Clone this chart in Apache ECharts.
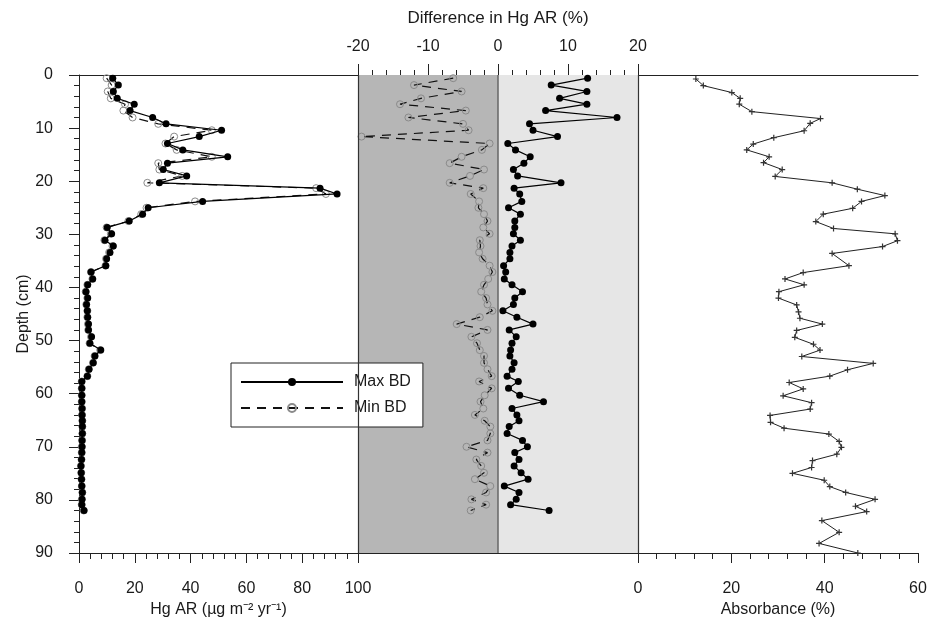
<!DOCTYPE html>
<html>
<head>
<meta charset="utf-8">
<script src="https://cdn.jsdelivr.net/npm/echarts@6/dist/echarts.min.js"></script>
<style>
html,body{margin:0;padding:0;background:#fff;}
#chart{width:928px;height:619px;}
</style>
</head>
<body>
<div id="chart"></div>
<script>
// Sample depths (cm) for Hg AR and difference profiles
var depth = [0.6,1.9,3.1,4.4,5.5,6.7,8.0,9.2,10.4,11.6,12.9,14.1,15.4,16.6,17.8,19.0,20.3,21.3,22.4,23.8,
  25.0,26.2,27.5,28.7,29.9,31.1,32.2,33.4,34.6,35.9,37.1,38.4,39.5,40.8,42.0,43.2,44.4,45.6,46.9,48.0,
  49.3,50.5,51.8,52.9,54.2,55.4,56.7,57.7,59.0,60.3,61.5,62.8,64.0,65.1,66.2,67.5,68.8,70.0,71.1,72.4,
  73.6,74.9,76.1,77.4,78.6,79.9,80.9,82.0];
// Hg AR (ug m-2 yr-1), maximum bulk density
var hgMax = [12.1,14.1,12.3,13.7,19.8,18.3,26.4,31.2,51.1,43.1,31.7,37.2,53.3,31.7,30.2,38.6,28.8,86.4,92.5,44.3,
  24.8,22.8,18.0,10.1,11.7,9.3,12.3,11.1,9.9,9.6,4.3,4.9,3.1,2.5,3.1,2.7,3.0,3.1,3.4,3.4,
  4.5,3.9,7.8,5.7,5.1,3.6,3.0,1.0,1.0,1.0,1.0,1.1,1.1,1.2,1.2,1.2,1.1,1.1,1.0,0.9,
  0.7,0.8,0.9,1.0,1.2,1.1,1.0,1.8];
// Hg AR, minimum bulk density
var hgMin = [9.9,11.7,10.3,11.4,16.5,15.9,19.2,28.4,47.6,34.1,31.0,35.0,47.6,28.4,28.8,37.0,24.5,85.0,88.5,41.6,
  24.2,22.3,17.7,9.9,11.4,9.1,12.0,10.8,9.7,9.5,4.3,4.8,3.0,2.4,3.0,2.6,3.0,3.0,3.2,3.3,
  4.3,3.8,7.6,5.6,5.0,3.5,3.0,1.0,1.0,1.0,1.0,1.1,1.1,1.2,1.2,1.2,1.1,1.0,1.0,0.9,
  0.7,0.8,0.9,1.0,1.2,1.0,1.0,1.7];
// Difference in Hg AR (%)
var diffMax = [12.8,7.6,12.7,8.8,12.7,6.8,17.0,4.5,5.0,8.5,1.4,2.5,4.6,3.7,2.2,2.8,9.0,2.3,3.1,3.4,
  1.5,3.2,2.4,2.4,2.2,3.2,2.0,1.7,1.7,0.8,1.1,0.9,2.0,3.5,2.4,2.2,0.7,2.7,5.0,1.6,
  2.6,2.0,1.8,1.7,2.3,2.0,1.3,2.9,1.5,3.1,6.5,2.0,2.7,3.0,1.6,1.3,3.5,4.2,2.4,3.0,
  2.3,3.3,4.3,0.9,3.0,2.6,1.8,7.3];
var diffMin = [-6.4,-12.0,-5.2,-11.0,-14.0,-4.6,-12.8,-5.0,-4.2,-19.5,-1.2,-2.3,-5.2,-6.9,-2.0,-4.0,-6.9,-2.1,-3.9,-2.7,
  -2.8,-2.0,-1.5,-2.1,-1.2,-2.6,-2.5,-2.7,-2.2,-1.2,-0.8,-1.4,-2.0,-2.4,-1.7,-1.5,-0.8,-2.6,-5.9,-1.5,
  -3.8,-3.0,-2.6,-2.0,-2.0,-1.5,-0.9,-2.7,-0.9,-1.9,-2.5,-2.1,-3.3,-1.9,-1.1,-1.1,-1.5,-4.5,-1.5,-3.1,
  -2.4,-2.0,-3.3,-1.1,-1.7,-3.8,-1.7,-3.9];
// Absorbance profile
var absDepth = [0.75,2.0,3.3,4.4,5.5,6.9,8.2,9.1,10.5,11.8,13.0,14.1,15.4,16.5,17.8,19.1,20.3,21.5,22.7,23.8,
  25.1,26.2,27.6,28.9,29.9,31.2,32.3,33.6,35.9,37.2,38.4,39.5,40.8,42.0,43.3,44.6,45.8,46.9,48.1,49.4,
  50.7,51.8,53.0,54.3,55.5,56.7,57.9,59.1,60.4,61.7,62.9,64.1,65.4,66.5,67.6,69.0,70.1,71.4,72.6,73.9,
  75.0,76.3,77.5,78.6,79.9,81.2,82.2,83.9,86.1,88.2,90.0];
var absVal = [12.4,14.0,20.1,21.9,21.7,24.4,39.1,36.9,35.6,29.1,24.7,23.3,28.1,26.9,30.9,29.4,41.6,47.0,52.9,47.9,
  46.0,39.7,38.1,41.9,55.1,55.6,52.4,41.6,45.2,35.4,31.5,35.6,30.2,30.1,34.0,34.4,34.7,39.5,34.0,33.6,
  37.6,39.0,35.1,50.4,44.9,41.1,32.4,35.4,31.1,37.2,36.9,28.3,28.4,31.3,40.9,43.1,43.6,42.6,37.4,37.2,
  33.1,39.9,41.1,44.5,50.8,46.6,49.0,39.4,43.1,38.8,47.1];
// Tick settings
var depthTicks = {min:0, max:90, interval:10};
var hgTicks = {min:0, max:100, interval:20};
var diffTicks = {min:-20, max:20, interval:10};
var absTicks = {min:0, max:60, interval:20};

function pairs(xs, ys){ return xs.map(function(v,i){ return [v, ys[i]]; }); }

var FONT = 'Liberation Sans, Arial, sans-serif';
var TXT = '#1a1a1a';
var AX = {color:'#222', width:1};

function lineOnlyAxis(grid, pos, t){
  return {gridIndex:grid, type:'value', position:pos, min:t.min, max:t.max, interval:t.interval,
    axisLine:{show:true, onZero:false, lineStyle:AX}, axisTick:{show:false}, axisLabel:{show:false},
    splitLine:{show:false}};
}
function tickAxis(grid, pos, t, name, gap, margin){
  return {gridIndex:grid, type:'value', position:pos, min:t.min, max:t.max, interval:t.interval,
    axisLine:{show:true, onZero:false, lineStyle:AX},
    axisTick:{show:true, inside:false, length:10, lineStyle:AX},
    minorTick:{show:true, splitNumber:5, length:6, lineStyle:AX},
    axisLabel:{show:true, fontSize:16, color:TXT, fontFamily:FONT, margin:margin},
    splitLine:{show:false}, minorSplitLine:{show:false},
    name:name, nameLocation:'middle', nameGap:gap,
    nameTextStyle:{fontSize:16, color:TXT, fontFamily:FONT}};
}

var chart = echarts.init(document.getElementById('chart'), null, {renderer:'canvas'});
var openCircle = {color:'rgba(255,255,255,0)', borderColor:'#8a8a8a', borderWidth:1};
var plus = 'path://M4,0h2v4h4v2h-4v4h-2v-4h-4v-2h4z';

chart.setOption({
  animation:false,
  backgroundColor:'#fff',
  textStyle:{fontFamily:FONT},
  grid:[
    {left:79, top:75, width:279, height:478, containLabel:false, outerBoundsMode:'none'},
    {left:358, top:75, width:280, height:478, containLabel:false, outerBoundsMode:'none'},
    {left:638, top:75, width:280, height:478, containLabel:false, outerBoundsMode:'none'}
  ],
  xAxis:[
    tickAxis(0,'bottom',hgTicks,'Hg AR (\u00b5g m\u207b\u00b2 yr\u207b\u00b9)',45,28),
    lineOnlyAxis(0,'top',hgTicks),
    (function(){ var a = tickAxis(1,'top',diffTicks,'Difference in Hg AR (%)',48,20);
       a.axisTick.length = 11; a.minorTick.length = 5; a.nameTextStyle.fontSize = 17; return a; })(),
    lineOnlyAxis(1,'bottom',diffTicks),
    tickAxis(2,'bottom',absTicks,'Absorbance (%)',45,28),
    lineOnlyAxis(2,'top',absTicks)
  ],
  yAxis:[
    {gridIndex:0, type:'value', inverse:true, min:depthTicks.min, max:depthTicks.max, interval:depthTicks.interval,
     axisLine:{show:true, onZero:false, lineStyle:AX},
     axisTick:{show:true, length:10, lineStyle:AX},
     minorTick:{show:true, splitNumber:5, length:5, lineStyle:AX},
     axisLabel:{fontSize:16, color:TXT, fontFamily:FONT, margin:26},
     splitLine:{show:false},
     name:'Depth (cm)', nameLocation:'middle', nameGap:47, nameRotate:90,
     nameTextStyle:{fontSize:16, color:TXT, fontFamily:FONT}},
    {gridIndex:1, type:'value', inverse:true, min:depthTicks.min, max:depthTicks.max, show:false},
    {gridIndex:2, type:'value', inverse:true, min:depthTicks.min, max:depthTicks.max, show:false}
  ],
  legend:{
    data:['Max BD','Min BD'], orient:'vertical', left:231, top:363,
    padding:[10,12,10,9], itemWidth:102, itemHeight:10, itemGap:8,
    backgroundColor:'#fff', borderColor:'#222', borderWidth:1, selectedMode:false,
    textStyle:{fontSize:16, color:TXT, fontFamily:FONT, lineHeight:18, padding:[0,0,0,6]}
  },
  series:[
    {name:'Max BD', type:'line', xAxisIndex:0, yAxisIndex:0, data:pairs(hgMax, depth), z:4,
     symbol:'circle', symbolSize:7, itemStyle:{color:'#000'}, lineStyle:{color:'#000', width:1.2}},
    {name:'Min BD', type:'line', xAxisIndex:0, yAxisIndex:0, data:pairs(hgMin, depth), z:3,
     symbol:'circle', symbolSize:7, itemStyle:openCircle, lineStyle:{color:'#111', width:1.2, type:[9,7]}},
    {name:'bg', type:'line', xAxisIndex:2, yAxisIndex:1, data:[], z:1, silent:true,
     markArea:{silent:true, data:[
       [{xAxis:-20, yAxis:0, itemStyle:{color:'#b6b6b6'}},{xAxis:0, yAxis:90}],
       [{xAxis:0, yAxis:0, itemStyle:{color:'#e6e6e6'}},{xAxis:20, yAxis:90}]
     ]},
     markLine:{silent:true, symbol:'none', label:{show:false},
       data:[{xAxis:-20, lineStyle:{color:'#333', width:1.2, type:'solid'}},
             {xAxis:0, lineStyle:{color:'#666', width:1.5, type:'solid'}},
             {xAxis:20, lineStyle:{color:'#333', width:1.2, type:'solid'}}]}},
    {name:'Max BD', type:'line', xAxisIndex:2, yAxisIndex:1, data:pairs(diffMax, depth), z:4,
     symbol:'circle', symbolSize:7, itemStyle:{color:'#000'}, lineStyle:{color:'#000', width:1.2}},
    {name:'Min BD', type:'line', xAxisIndex:2, yAxisIndex:1, data:pairs(diffMin, depth), z:3,
     symbol:'circle', symbolSize:7, itemStyle:openCircle, lineStyle:{color:'#111', width:1.2, type:[9,7]}},
    {name:'Absorbance', type:'line', xAxisIndex:4, yAxisIndex:2, data:pairs(absVal, absDepth), z:3,
     symbol:plus, symbolSize:6, itemStyle:{color:'#333'}, lineStyle:{color:'#222', width:1}}
  ]
});
</script>
</body>
</html>
